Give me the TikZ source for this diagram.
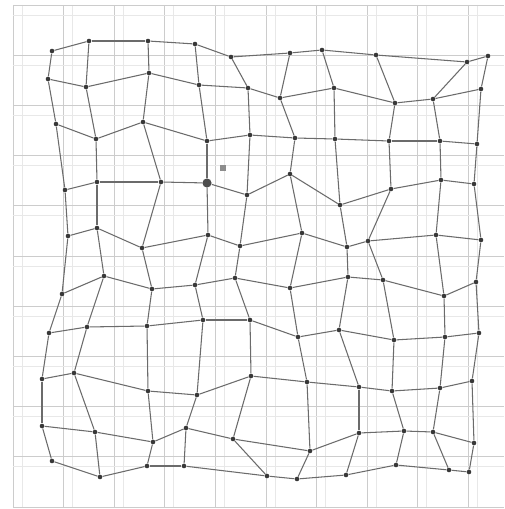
\documentclass[tikz,border=0pt]{standalone}
\pgfdeclarelayer{bg}
\pgfsetlayers{bg,main}
\tikzset{
  gridline/.style={draw=black!20, line width=0.5pt},
  faintline/.style={draw=black!9, line width=0.4pt},
  meshline/.style={draw=black!58, line width=0.6pt},
  meshdot/.style={circle, fill=black!78, inner sep=0pt, minimum size=2.6pt},
  pt 4-4/.style={minimum size=5.2pt, fill=black!70},
  marker/.style={rectangle, fill=black!45, inner sep=0pt, minimum size=3.4pt}
}
\begin{document}
\begin{tikzpicture}[x=0.02cm, y=-0.02cm]
    \useasboundingbox (0, 0) rectangle (504, 509);
    % mesh points, row by row
    \foreach \x/\y [count=\c] in {52/51, 89/41, 148/41, 195/44, 231/57, 290/53, 322/50, 376/55, 467/62, 488/56}
      \node[meshdot, pt 1-\c/.try] (p-1-\c) at (\x, \y) {};
    \foreach \x/\y [count=\c] in {48/79, 86/87, 149/73, 199/85, 248/88, 280/98, 334/88, 395/103, 433/99, 481/89}
      \node[meshdot, pt 2-\c/.try] (p-2-\c) at (\x, \y) {};
    \foreach \x/\y [count=\c] in {56/124, 96/139, 143/122, 207/141, 250/135, 295/138, 335/139, 389/141, 440/141, 477/144}
      \node[meshdot, pt 3-\c/.try] (p-3-\c) at (\x, \y) {};
    \foreach \x/\y [count=\c] in {65/190, 97/182, 161/182, 207/183, 247/195, 290/174, 340/205, 391/189, 441/180, 474/184}
      \node[meshdot, pt 4-\c/.try] (p-4-\c) at (\x, \y) {};
    \foreach \x/\y [count=\c] in {68/236, 97/228, 142/248, 208/235, 240/246, 302/233, 347/247, 368/241, 436/235, 481/240}
      \node[meshdot, pt 5-\c/.try] (p-5-\c) at (\x, \y) {};
    \foreach \x/\y [count=\c] in {62/294, 104/276, 152/289, 195/285, 235/278, 290/288, 348/277, 383/280, 444/296, 476/282}
      \node[meshdot, pt 6-\c/.try] (p-6-\c) at (\x, \y) {};
    \foreach \x/\y [count=\c] in {49/333, 87/327, 147/326, 203/320, 250/320, 298/337, 339/330, 394/340, 445/337, 479/333}
      \node[meshdot, pt 7-\c/.try] (p-7-\c) at (\x, \y) {};
    \foreach \x/\y [count=\c] in {42/379, 74/373, 148/391, 197/395, 251/376, 307/382, 359/387, 392/391, 440/388, 472/381}
      \node[meshdot, pt 8-\c/.try] (p-8-\c) at (\x, \y) {};
    \foreach \x/\y [count=\c] in {42/426, 95/432, 153/442, 186/428, 233/439, 310/451, 359/433, 404/431, 433/432, 474/443}
      \node[meshdot, pt 9-\c/.try] (p-9-\c) at (\x, \y) {};
    \foreach \x/\y [count=\c] in {52/461, 100/477, 147/466, 184/466, 267/476, 297/479, 346/475, 396/465, 449/470, 469/472}
      \node[meshdot, pt 10-\c/.try] (p-10-\c) at (\x, \y) {};
    \node[marker] (cursor) at (223, 168) {};
    \begin{pgfonlayer}{bg}
      \fill[white] (0, 0) rectangle (504, 509);
      % background grid
      \foreach \i in {0,...,9} {
        \draw[faintline] ({22 + 50.6 * \i}, 5) -- ({22 + 50.6 * \i}, 507);
        \draw[gridline] ({13 + 50.6 * \i}, 5) -- ({13 + 50.6 * \i}, 507);
      }
      \foreach \j in {0,...,9} {
        \draw[faintline] (13, {15 + 50.2 * \j}) -- (504, {15 + 50.2 * \j});
      }
      \foreach \j in {0,...,10} {
        \draw[gridline] (13, {5 + 50.2 * \j}) -- (504, {5 + 50.2 * \j});
      }
      % mesh edges
      \foreach \r in {1,...,10} {
        \foreach \c [evaluate=\c as \n using int(\c + 1)] in {1,...,9} {
          \draw[meshline] (p-\r-\c) -- (p-\r-\n);
          \draw[meshline] (p-\c-\r) -- (p-\n-\r);
        }
      }
    \end{pgfonlayer}
\end{tikzpicture}
\end{document}
